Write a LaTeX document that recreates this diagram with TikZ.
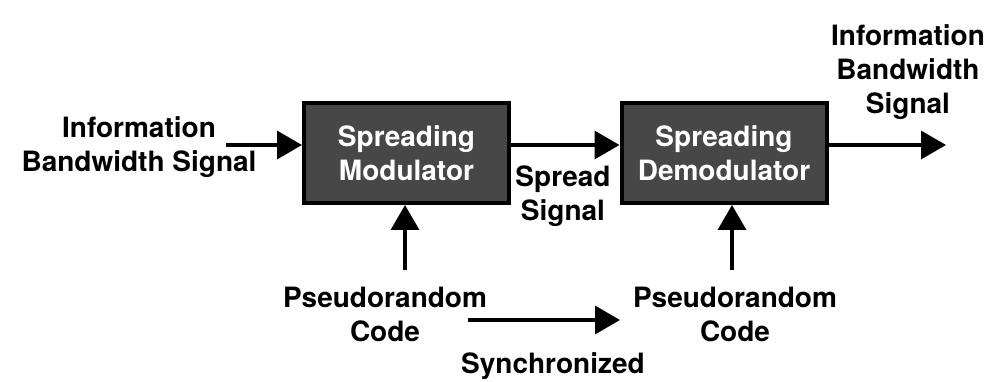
\documentclass[tikz,border=0pt]{standalone}
\usepackage{fontspec}
\setmainfont{TeX Gyre Heros}
\usetikzlibrary{arrows.meta}
\begin{document}
\begin{tikzpicture}[x=1pt,y=-1pt,
  every node/.style={font=\fontsize{28}{34}\selectfont\bfseries, inner sep=0pt, align=center},
  blockbox/.style={draw=black, line width=4pt, fill=black!72, text=white, minimum width=205pt, minimum height=100pt},
  arr/.style={line width=3.5pt, -{Triangle[length=25pt,width=28pt]}},
  lbl/.style={text=black}]
\useasboundingbox (0,0) rectangle (996,382);
\node[blockbox] (mod) at (406.5,153) {Spreading\\Modulator};
\node[blockbox] (demod) at (724,153) {Spreading\\Demodulator};
\node[lbl] (in) at (139,147) {Information\\Bandwidth Signal};
\node[lbl] (out) at (908,72) {Information\\Bandwidth\\Signal};
\node[lbl] (spread) at (563,196) {Spread\\Signal};
\node[lbl] (pn1) at (385,314) {Pseudorandom\\Code};
\node[lbl] (pn2) at (735,314) {Pseudorandom\\Code};
\node[lbl] (sync) at (553,366) {Synchronized};
\coordinate (inS) at (226,145);
\coordinate (outE) at (946,145);
\coordinate (u1) at (405,270);
\coordinate (u2) at (732,270);
\coordinate (s1) at (468,320);
\coordinate (s2) at (620,320);
\draw[arr] (inS) -- (mod.west |- inS);
\draw[arr] (mod.east |- inS) -- (demod.west |- inS);
\draw[arr] (demod.east |- inS) -- (outE);
\draw[arr] (u1) -- (u1 |- mod.south);
\draw[arr] (u2) -- (u2 |- demod.south);
\draw[arr] (s1) -- (s2);
\end{tikzpicture}
\end{document}
